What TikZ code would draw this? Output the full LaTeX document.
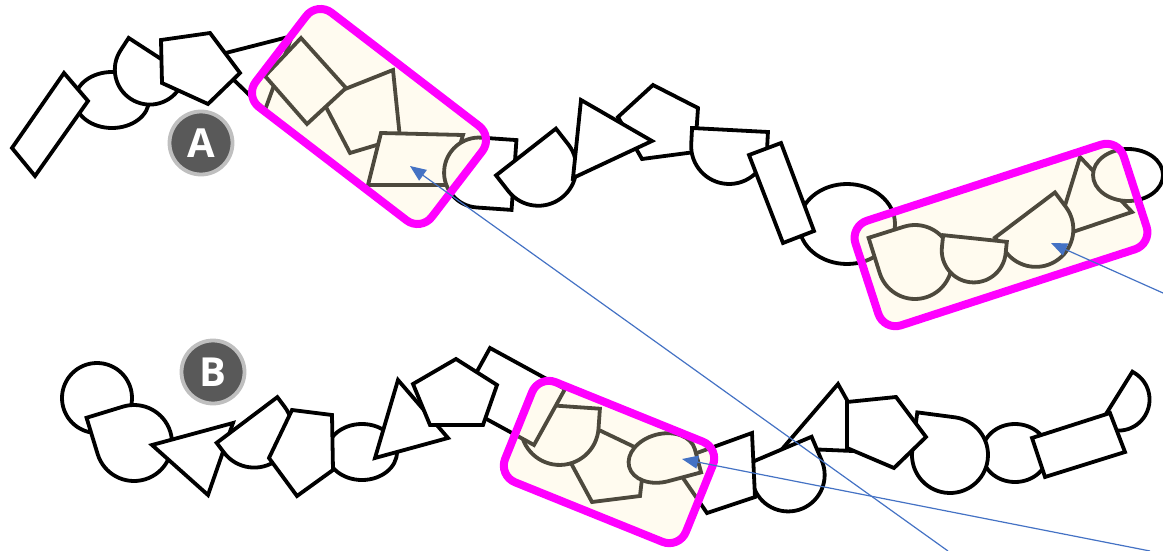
\documentclass[tikz,border=0pt]{standalone}
\usepackage{fontspec}
\newfontfamily\badgefont{Open Sans}
\usetikzlibrary{arrows.meta}

\definecolor{framepink}{HTML}{FF00FF}
\definecolor{framefill}{HTML}{FFF2CC}
\definecolor{pointerblue}{HTML}{4472C4}
\definecolor{badgegray}{HTML}{595959}
\definecolor{badgering}{HTML}{BFBFBF}

\tikzset{
  piece/.style={draw=black,fill=white,line width=3.8pt},
  hilite/.style={draw=framepink,fill=framefill,fill opacity=0.3,line width=8pt,rounded corners=18pt},
  badge/.style={circle,fill=badgegray,draw=badgering,line width=3.8pt,minimum size=63pt,inner sep=0pt,
    text=white,font=\badgefont\bfseries\fontsize{40}{40}\selectfont},
  pointer/.style={draw=pointerblue,line width=1.2pt,-{Triangle[length=16pt,width=13pt]}}
}

% centre of flat side, angle of bulge, radius, straight part
\newcommand{\dshape}[4]{\draw[piece,shift={(#1)},rotate=#2] (0,#3) -- (0,-#3) -- (#4,-#3)
  arc[start angle=-90,end angle=90,radius=#3] -- cycle;}
% centre, turn, x radius, y radius
\newcommand{\tdrop}[4]{\draw[piece,shift={(#1)},rotate=#2] (#3,0) -- (#3,#4) -- (0,#4)
  arc[start angle=90,end angle=360,x radius=#3,y radius=#4] -- cycle;}

\begin{document}
\begin{tikzpicture}[x=1pt,y=1pt,yscale=-1]
\useasboundingbox (0,0) rectangle (1163,551);

\draw[piece] (112,100) ellipse[x radius=37,y radius=28];
\draw[piece] (12,148) -- (64,73) -- (88,101) -- (35,176) -- cycle;
\dshape{158,57}{123}{35}{15}
\draw[piece] (210,57) -- (292,36) -- (265,110) -- cycle;
\draw[piece] (161,40) -- (210,33) -- (240,73) -- (208,104) -- (162,83) -- cycle;
\draw[piece] (330,95) -- (393,70) -- (400,138) -- (350,153) -- (326,107) -- cycle;
\draw[piece] (301,38) -- (346,88) -- (307,124) -- (265,76) -- cycle;
\draw[piece] (381,133) -- (463,135) -- (448,185) -- (368,185) -- cycle;
\dshape{514,175}{184}{35}{35}
\dshape{526,152}{52}{38}{20}
\draw[piece] (618,117) -- (653,85) -- (698,108) -- (695,152) -- (642,159) -- cycle;
\draw[piece] (581,100) -- (652,141) -- (573,178) -- cycle;
\dshape{730,130}{93}{38}{16}
\draw[piece] (847,224) ellipse[x radius=48,y radius=40];
\draw[piece] (749,155) -- (781,143) -- (814,231) -- (783,243) -- cycle;
\draw[piece] (1080,157) -- (1132,212) -- (1055,238) -- cycle;
\dshape{1025,215}{53}{37.5}{18}
\tdrop{915,262}{162.5}{37}{37}
\dshape{975,238.5}{96}{32}{12}
\draw[piece] (1128,175) ellipse[x radius=35,y radius=26];

\draw[piece] (97,398) circle[radius=35];
\tdrop{134,443}{163}{38}{38}
\draw[piece] (152,445) -- (233,423) -- (208,495) -- cycle;
\dshape{247,420}{53}{38}{12}
\draw[piece] (362,452) ellipse[x radius=35,y radius=28];
\draw[piece] (292,410) -- (332,415) -- (333,470) -- (297,496) -- (269,458) -- cycle;
\draw[piece] (398,380) -- (448,438) -- (375,458) -- cycle;
\draw[piece] (578,420) -- (645,452) -- (640,496) -- (592,502) -- (572,465) -- cycle;
\dshape{561,406}{94}{39}{20}
\draw[piece] (490,348) -- (565,389) -- (534,445) -- (459,404) -- cycle;
\draw[piece] (456,359) -- (497,385) -- (483,425) -- (430,425) -- (413,384) -- cycle;
\draw[piece] (838,384) -- (876,452) -- (783,448) -- cycle;
\dshape{778,451}{67}{36.5}{26}
\draw[piece] (672,462) -- (752,433) -- (755,497) -- (707,513) -- cycle;
\tdrop{662,458}{-15}{34}{24}
\draw[piece] (1015,453) ellipse[x radius=33,y radius=29];
\tdrop{950,455}{187.5}{38}{38}
\draw[piece] (847,402) -- (896,397) -- (926,437) -- (894,468) -- (847,448) -- cycle;
\dshape{1116,398}{32}{31}{3}
\draw[piece] (1032,438) -- (1110,413) -- (1125,452) -- (1045,477) -- cycle;

\draw[hilite,shift={(369,116.5)},rotate=37.5] (-111,-59.5) rectangle (111,59.5);
\draw[hilite,shift={(1001,235)},rotate=-18] (-141,-55) rectangle (141,55);
\draw[hilite,shift={(609,462)},rotate=22] (-97.5,-54) rectangle (97.5,54);

\node[badge] (labA) at (201,143) {A};
\node[badge] (labB) at (213,372) {B};

\coordinate (tipA) at (410,166);
\coordinate (tipC) at (1051,243);
\coordinate (tipB) at (682,459);
\coordinate (footA) at (948,551);
\coordinate (footC) at (1163,293);
\coordinate (footB) at (1150,551);
\draw[pointer] (footA) -- (tipA);
\draw[pointer] (footC) -- (tipC);
\draw[pointer] (footB) -- (tipB);
\end{tikzpicture}
\end{document}
